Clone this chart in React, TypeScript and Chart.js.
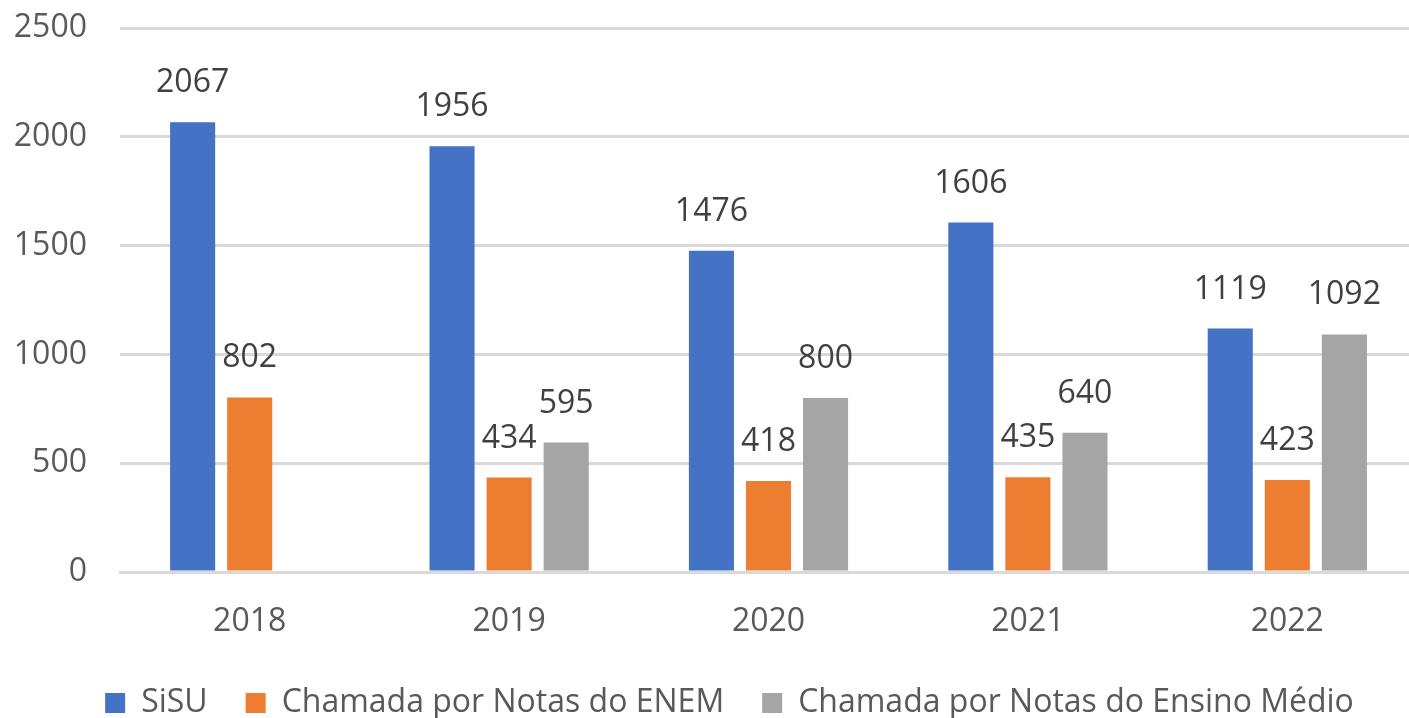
import React, { useEffect, useRef } from "react";
import { Chart, registerables } from "chart.js";

Chart.register(...registerables);

const categories = ["2018", "2019", "2020", "2021", "2022"];
const sisu = [2067, 1956, 1476, 1606, 1119];
const enem = [802, 434, 418, 435, 423];
const ensinoMedio: (number | null)[] = [null, 595, 800, 640, 1092];
const seriesNames = ["SiSU", "Chamada por Notas do ENEM", "Chamada por Notas do Ensino Médio"];
const yTicks = [0, 500, 1000, 1500, 2000, 2500];

const FONT = "'Open Sans', 'Noto Sans', sans-serif";
const TEXT = "#595959";
const FS = 32;

const labelPlugin = {
  id: "valueLabels",
  afterDatasetsDraw(chart: any) {
    const ctx = chart.ctx;
    ctx.save();
    ctx.font = `${FS}px ${FONT}`;
    ctx.fillStyle = "#404040";
    ctx.textAlign = "center";
    ctx.textBaseline = "alphabetic";
    chart.data.datasets.forEach((ds: any, i: number) => {
      const meta = chart.getDatasetMeta(i);
      meta.data.forEach((bar: any, j: number) => {
        const v = ds.data[j];
        if (v === null || v === undefined) return;
        ctx.fillText(String(v), bar.x, bar.y - 30);
      });
    });
    ctx.restore();
  },
};

const legendShift = {
  id: "legendShift",
  afterLayout(chart: any) {
    const lg = chart.legend;
    if (!lg) return;
    lg.left += 21;
    lg.right += 21;
  },
};

export default function App() {
  const ref = useRef<HTMLCanvasElement>(null);
  useEffect(() => {
    if (!ref.current) return;
    const chart = new Chart(ref.current, {
      type: "bar",
      data: {
        labels: categories,
        datasets: [
          { label: seriesNames[0], data: sisu, backgroundColor: "#4472C4" },
          { label: seriesNames[1], data: enem, backgroundColor: "#ED7D31" },
          { label: seriesNames[2], data: ensinoMedio, backgroundColor: "#A5A5A5" },
        ],
      },
      options: {
        animation: false,
        responsive: false,
        maintainAspectRatio: false,
        layout: { padding: { top: 28, right: 0, left: 0, bottom: -11 } },
        datasets: { bar: { categoryPercentage: 0.66, barPercentage: 0.79 } },
        plugins: {
          legend: {
            position: "bottom",
            labels: {
              font: { family: FONT, size: FS },
              color: TEXT,
              boxWidth: 20,
              boxHeight: 20,
              padding: 38,
            },
          },
          tooltip: { enabled: false },
        },
        scales: {
          x: {
            grid: { display: false },
            border: { color: "#D9D9D9", width: 3 },
            ticks: { font: { family: FONT, size: FS }, color: TEXT, padding: 23 },
            afterFit: (s: any) => { s.height = 77; },
          },
          y: {
            min: 0,
            max: 2500,
            afterBuildTicks: (s: any) => { s.ticks = yTicks.map((v) => ({ value: v })); },
            grid: { color: "#D9D9D9", lineWidth: 3, drawTicks: false },
            border: { display: false },
            ticks: {
              font: { family: FONT, size: FS },
              color: TEXT,
              padding: 33,
              callback: (v: any) => String(v),
            },
            afterFit: (s: any) => {
              s.width = 120;
              s.paddingTop = 0;
              s.paddingBottom = 0;
            },
          },
        },
      },
      plugins: [labelPlugin, legendShift],
    });
    return () => chart.destroy();
  }, []);
  return (
    <div style={{ position: "fixed", left: 0, top: 0, width: 1409, height: 718, overflow: "hidden", background: "#fff" }}>
      <canvas ref={ref} width={1417} height={718} style={{ display: "block" }} />
    </div>
  );
}
